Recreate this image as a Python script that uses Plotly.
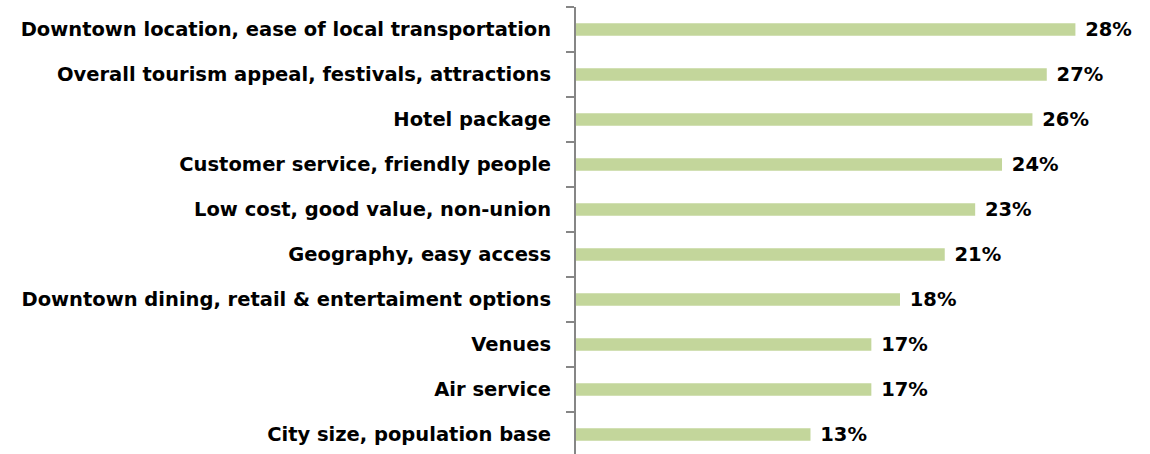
import plotly.graph_objects as go

categories = [
    "Downtown location, ease of local transportation",
    "Overall tourism appeal, festivals, attractions",
    "Hotel package",
    "Customer service, friendly people",
    "Low cost, good value, non-union",
    "Geography, easy access",
    "Downtown dining, retail & entertaiment options",
    "Venues",
    "Air service",
    "City size, population base",
]
values = [27.9, 26.3, 25.5, 23.8, 22.3, 20.6, 18.1, 16.5, 16.5, 13.1]
value_labels = ["28%", "27%", "26%", "24%", "23%", "21%", "18%", "17%", "17%", "13%"]

FONT = "DejaVu Sans"

fig = go.Figure(
    go.Bar(
        y=categories,
        x=values,
        orientation="h",
        marker=dict(color="#C3D69B", line=dict(width=0)),
        width=0.28,
        text=[" " + t for t in value_labels],
        textposition="outside",
        constraintext="none",
        textfont=dict(family=FONT, size=19.5, color="#000000", weight="bold"),
        cliponaxis=False,
        hoverinfo="skip",
    )
)

fig.update_layout(
    width=1150,
    height=457,
    margin=dict(l=576, r=37, t=7, b=0, autoexpand=False),
    plot_bgcolor="white",
    paper_bgcolor="white",
    showlegend=False,
    bargap=0.72,
)
fig.update_xaxes(
    range=[0, 30],
    visible=False,
    showgrid=False,
    zeroline=False,
    automargin=False,
)
fig.update_yaxes(
    type="category",
    categoryorder="array",
    categoryarray=categories,
    autorange="reversed",
    automargin=False,
    showline=True,
    linecolor="#868686",
    linewidth=2,
    ticks="outside",
    tickson="boundaries",
    ticklen=8,
    tickwidth=2,
    tickcolor="#868686",
    ticklabelstandoff=19,
    tickfont=dict(family=FONT, size=19.5, color="#000000", weight="bold"),
    showgrid=False,
    zeroline=False,
)

fig.write_html(
    "out.html",
    config={"displayModeBar": False},
    post_script="document.body.style.margin='0';document.body.style.overflow='hidden';",
)
